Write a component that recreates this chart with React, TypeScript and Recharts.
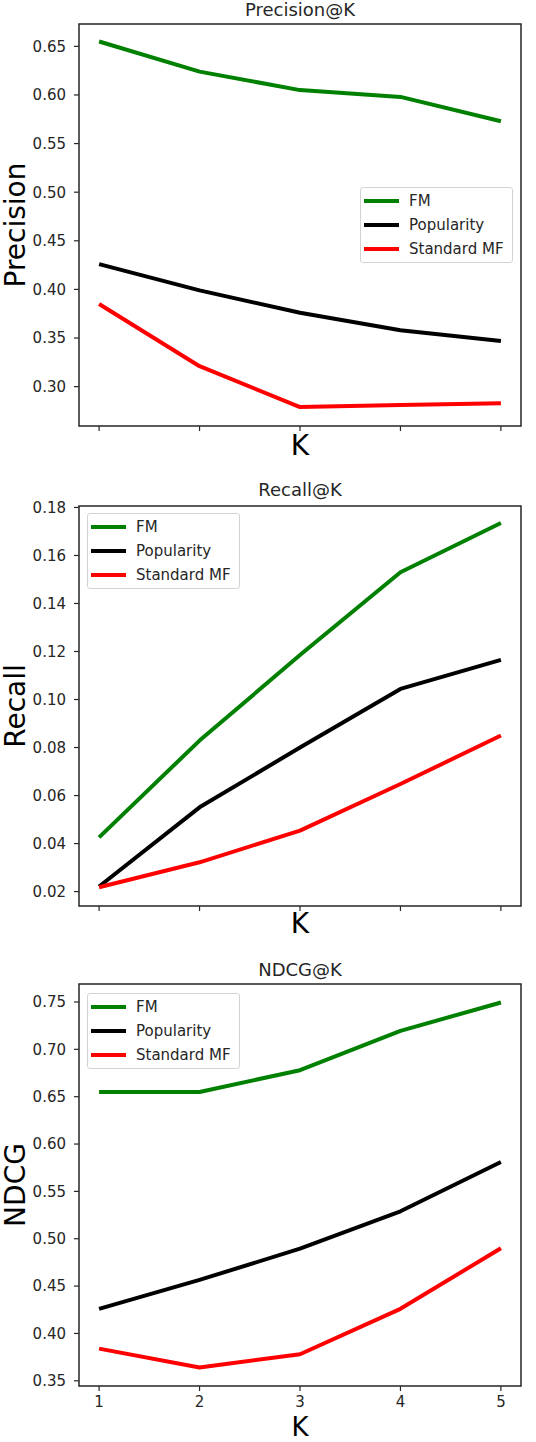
import React from 'react'
import { LineChart, Line, XAxis, YAxis, Legend, ReferenceArea } from 'recharts'

const K = [1, 2, 3, 4, 5]

const precisionFM = [0.655, 0.624, 0.605, 0.598, 0.573]
const precisionPop = [0.426, 0.399, 0.376, 0.358, 0.347]
const precisionMF = [0.385, 0.321, 0.279, 0.281, 0.283]
const precisionTicks = [0.3, 0.35, 0.4, 0.45, 0.5, 0.55, 0.6, 0.65]

const recallFM = [0.0426, 0.0829, 0.1185, 0.153, 0.1735]
const recallPop = [0.0221, 0.0551, 0.08, 0.1044, 0.1165]
const recallMF = [0.0218, 0.0322, 0.0454, 0.0648, 0.085]
const recallTicks = [0.02, 0.04, 0.06, 0.08, 0.1, 0.12, 0.14, 0.16, 0.18]

const ndcgFM = [0.655, 0.655, 0.678, 0.7195, 0.7495]
const ndcgPop = [0.426, 0.4565, 0.4895, 0.529, 0.581]
const ndcgMF = [0.384, 0.364, 0.378, 0.426, 0.49]
const ndcgTicks = [0.35, 0.4, 0.45, 0.5, 0.55, 0.6, 0.65, 0.7, 0.75]

const INK = '#262626'

function LegendBox({ payload }: any) {
  return (
    <div
      style={{
        width: 153,
        height: 76,
        boxSizing: 'border-box',
        border: '1px solid #d3d3d3',
        borderRadius: 3,
        background: '#fff',
        padding: '1px 0 0 3px',
      }}
    >
      {(payload || []).map((entry: any) => (
        <div key={entry.value} style={{ display: 'flex', alignItems: 'center', height: 24 }}>
          <span style={{ width: 35, height: 4, background: entry.color, marginRight: 10 }} />
          <span style={{ fontSize: 15, color: INK, lineHeight: '24px', whiteSpace: 'nowrap' }}>
            {entry.value}
          </span>
        </div>
      ))}
    </div>
  )
}

// tick marks only, no label (top two panels)
const NoLabel = () => <g />

type PanelProps = {
  top: number
  height: number
  title: string
  titleTop: number
  yLabel: string
  fm: number[]
  pop: number[]
  mf: number[]
  domain: [number, number]
  ticks: number[]
  marginTop: number
  xAxisHeight: number
  xLabelOffset: number
  xLabelSize: number
  showXTickLabels: boolean
  legendLeft: number
  legendTop: number
}

function Panel(p: PanelProps) {
  const rows = K.map((k, i) => ({ k, fm: p.fm[i], pop: p.pop[i], mf: p.mf[i] }))
  return (
    <div style={{ position: 'absolute', left: 0, top: p.top, width: 536, height: p.height }}>
      <div
        style={{
          position: 'absolute',
          left: 79,
          width: 442,
          top: p.titleTop,
          textAlign: 'center',
          fontSize: 18,
          lineHeight: '20px',
          color: INK,
          zIndex: 2,
        }}
      >
        {p.title}
      </div>
      <LineChart
        width={536}
        height={p.height}
        data={rows}
        margin={{ top: p.marginTop, right: 15, bottom: 0, left: 0 }}
      >
        <XAxis
          dataKey="k"
          type="number"
          domain={[0.8, 5.2]}
          ticks={K}
          interval={0}
          allowDataOverflow
          height={p.xAxisHeight}
          axisLine={false}
          tickSize={5}
          tickMargin={5}
          tickLine={{ stroke: INK, strokeWidth: 1.2 }}
          tick={p.showXTickLabels ? { fill: INK, fontSize: 15 } : NoLabel}
          label={{ value: 'K', position: 'insideBottom', offset: p.xLabelOffset, fontSize: p.xLabelSize, fill: '#000' }}
        />
        <YAxis
          type="number"
          domain={p.domain}
          ticks={p.ticks}
          interval={0}
          allowDataOverflow
          width={79}
          axisLine={false}
          tickSize={5}
          tickMargin={8}
          tickLine={{ stroke: INK, strokeWidth: 1.2 }}
          tick={{ fill: INK, fontSize: 15 }}
          tickFormatter={(v: number) => v.toFixed(2)}
          label={{
            value: p.yLabel,
            angle: -90,
            position: 'insideLeft',
            offset: 15,
            fontSize: 28,
            fill: '#000',
            style: { textAnchor: 'middle' },
          }}
        />
        <Line dataKey="fm" name="FM" stroke="#008000" strokeWidth={4} dot={false} strokeLinejoin="round" isAnimationActive={false} />
        <Line dataKey="pop" name="Popularity" stroke="#000000" strokeWidth={4} dot={false} strokeLinejoin="round" isAnimationActive={false} />
        <Line dataKey="mf" name="Standard MF" stroke="#ff0000" strokeWidth={4} dot={false} strokeLinejoin="round" isAnimationActive={false} />
        <ReferenceArea
          x1={0.8}
          x2={5.2}
          y1={p.domain[0]}
          y2={p.domain[1]}
          fill="none"
          fillOpacity={0}
          stroke={INK}
          strokeWidth={1.5}
        />
        <Legend
          layout="vertical"
          align="center"
          verticalAlign="middle"
          wrapperStyle={{ left: p.legendLeft, top: p.legendTop, width: 'auto' }}
          content={(props: any) => <LegendBox payload={props.payload} />}
        />
      </LineChart>
    </div>
  )
}

export default function App() {
  return (
    <div
      style={{
        position: 'absolute',
        left: 0,
        top: 0,
        width: 536,
        height: 1442,
        background: '#fff',
        fontFamily: '"DejaVu Sans", sans-serif',
      }}
    >
      <Panel
        top={0}
        height={470}
        title="Precision@K"
        titleTop={0}
        yLabel="Precision"
        fm={precisionFM}
        pop={precisionPop}
        mf={precisionMF}
        domain={[0.2595, 0.673]}
        ticks={precisionTicks}
        marginTop={24}
        xAxisHeight={44}
        xLabelOffset={15}
        xLabelSize={28}
        showXTickLabels={false}
        legendLeft={360}
        legendTop={187}
      />
      <Panel
        top={470}
        height={480}
        title="Recall@K"
        titleTop={10}
        yLabel="Recall"
        fm={recallFM}
        pop={recallPop}
        mf={recallMF}
        domain={[0.014, 0.1806]}
        ticks={recallTicks}
        marginTop={36}
        xAxisHeight={44}
        xLabelOffset={17}
        xLabelSize={28}
        showXTickLabels={false}
        legendLeft={87}
        legendTop={43}
      />
      <Panel
        top={950}
        height={492}
        title="NDCG@K"
        titleTop={10}
        yLabel="NDCG"
        fm={ndcgFM}
        pop={ndcgPop}
        mf={ndcgMF}
        domain={[0.3445, 0.769]}
        ticks={ndcgTicks}
        marginTop={34}
        xAxisHeight={56}
        xLabelOffset={6}
        xLabelSize={26}
        showXTickLabels={true}
        legendLeft={87}
        legendTop={43}
      />
    </div>
  )
}
